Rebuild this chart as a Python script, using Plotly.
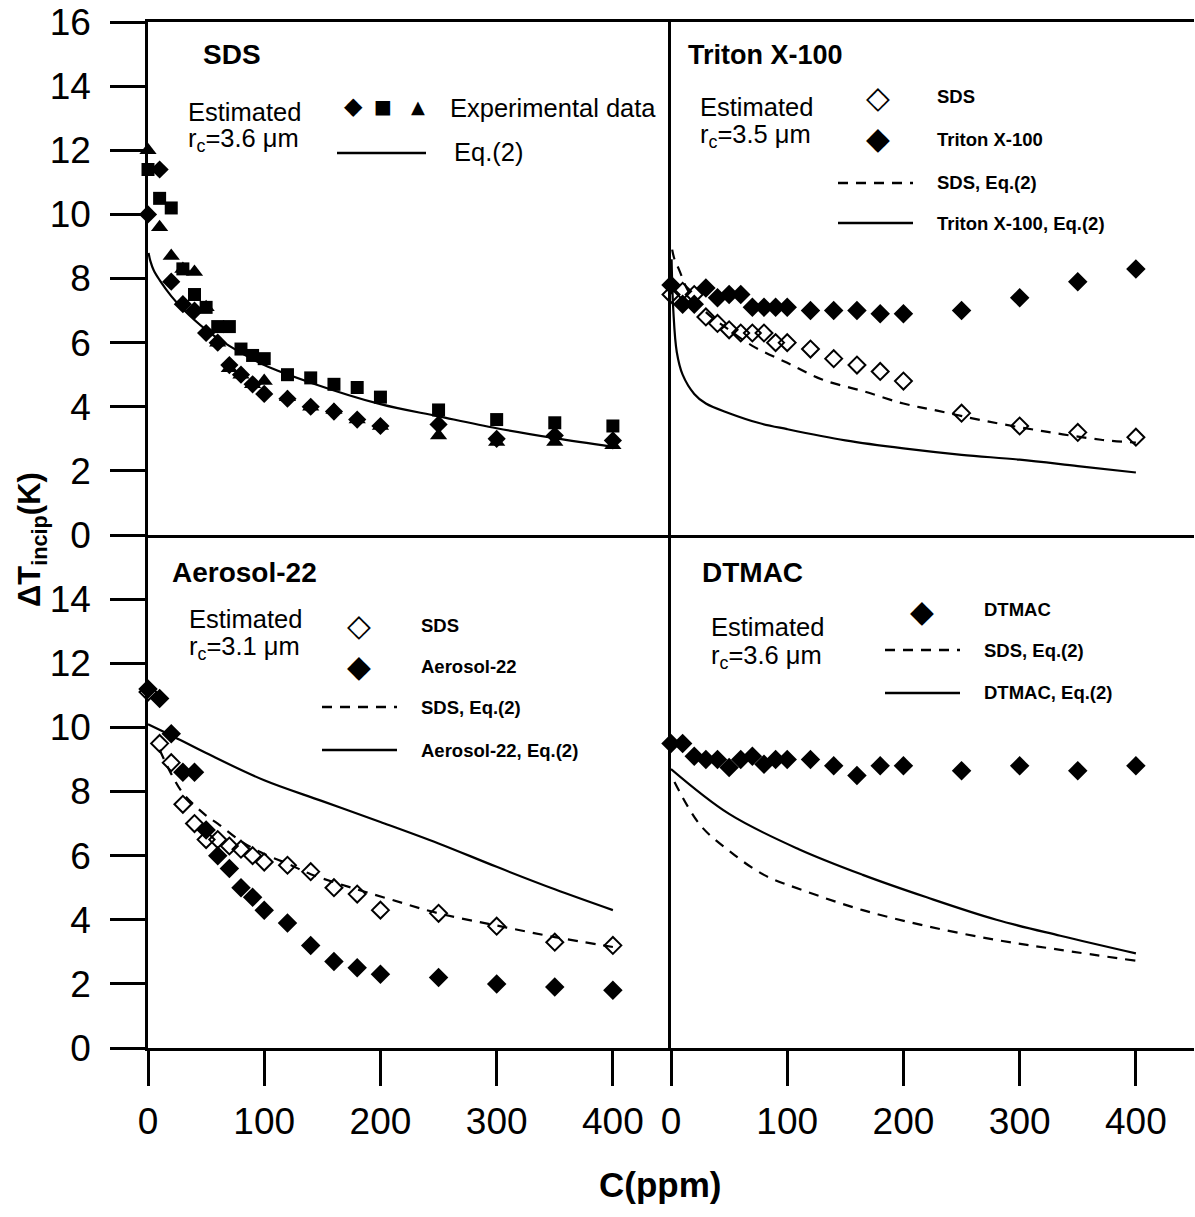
import plotly.graph_objects as go
from plotly.subplots import make_subplots

# concentrations of the measured points (ppm)
C_exp = [0, 10, 20, 30, 40, 50, 60, 70, 80, 90, 100, 120, 140, 160, 180, 200, 250, 300, 350, 400]

# --- SDS panel
sds_run1 = [10.0, 11.4, 7.9, 7.2, 7.0, 6.3, 6.0, 5.3, 5.0, 4.7, 4.4, 4.25, 4.0, 3.85, 3.6, 3.4, 3.45, 3.0, 3.1, 2.95]
sds_run2 = [11.4, 10.5, 10.2, 8.3, 7.5, 7.1, 6.5, 6.5, 5.8, 5.6, 5.5, 5.0, 4.9, 4.7, 4.6, 4.3, 3.9, 3.6, 3.5, 3.4]
sds_run3 = [12.0, 9.6, 8.7, 8.3, 8.2, 7.1, 6.0, 5.2, 5.0, 4.7, 4.8, 4.3, 4.0, 3.9, 3.6, 3.4, 3.1, 2.9, 2.9, 2.8]
sds_eq_c = [0.5, 2, 5, 10, 20, 30, 50, 70, 100, 140, 200, 250, 300, 350, 400]
sds_eq_t = [8.8, 8.55, 8.25, 7.95, 7.45, 7.05, 6.4, 5.9, 5.3, 4.75, 4.08, 3.7, 3.33, 3.02, 2.75]

# --- Triton X-100 panel
tri_sds = [7.5, 7.6, 7.5, 6.8, 6.6, 6.4, 6.3, 6.3, 6.3, 6.0, 6.0, 5.8, 5.5, 5.3, 5.1, 4.8, 3.8, 3.4, 3.2, 3.05]
tri_tx = [7.8, 7.2, 7.2, 7.7, 7.4, 7.5, 7.5, 7.1, 7.1, 7.1, 7.1, 7.0, 7.0, 7.0, 6.9, 6.9, 7.0, 7.4, 7.9, 8.3]
tri_sds_eq_c = [1, 3, 7, 15, 30, 50, 70, 100, 130, 165, 200, 230, 270, 320, 370, 400]
tri_sds_eq_t = [8.9, 8.6, 8.27, 7.6, 6.95, 6.4, 5.9, 5.37, 4.85, 4.49, 4.1, 3.87, 3.56, 3.24, 2.97, 2.88]
tri_tx_eq_c = [0.5, 2, 5, 10, 20, 30, 50, 75, 100, 150, 200, 250, 300, 350, 400]
tri_tx_eq_t = [8.6, 7.0, 5.7, 5.0, 4.4, 4.1, 3.8, 3.5, 3.3, 2.95, 2.7, 2.5, 2.35, 2.15, 1.95]

# --- Aerosol-22 panel
aer_sds = [11.1, 9.5, 8.9, 7.6, 7.0, 6.5, 6.5, 6.3, 6.2, 6.0, 5.8, 5.7, 5.5, 5.0, 4.8, 4.3, 4.2, 3.8, 3.3, 3.2]
aer_a22 = [11.2, 10.9, 9.8, 8.6, 8.6, 6.8, 6.0, 5.6, 5.0, 4.7, 4.3, 3.9, 3.2, 2.7, 2.5, 2.3, 2.2, 2.0, 1.9, 1.8]
aer_sds_eq_c = [10, 20, 30, 50, 60, 80, 100, 120, 140, 175, 210, 250, 300, 350, 400]
aer_sds_eq_t = [9.3, 8.55, 7.95, 7.25, 7.0, 6.45, 6.05, 5.75, 5.42, 5.0, 4.62, 4.2, 3.82, 3.46, 3.15]
aer_a22_eq_c = [0, 20, 50, 100, 150, 200, 250, 300, 350, 400]
aer_a22_eq_t = [10.1, 9.75, 9.2, 8.35, 7.7, 7.05, 6.38, 5.65, 4.95, 4.3]

# --- DTMAC panel
dt_dtmac = [9.5, 9.5, 9.1, 9.0, 9.0, 8.75, 9.0, 9.1, 8.85, 9.0, 9.0, 9.0, 8.8, 8.5, 8.8, 8.8, 8.65, 8.8, 8.65, 8.8]
dt_sds_eq_c = [3, 25, 50, 80, 115, 165, 220, 280, 335, 400]
dt_sds_eq_t = [8.3, 6.96, 6.15, 5.4, 4.9, 4.3, 3.8, 3.37, 3.06, 2.72]
dt_dt_eq_c = [0, 50, 110, 165, 220, 280, 335, 400]
dt_dt_eq_t = [8.7, 7.3, 6.2, 5.4, 4.7, 4.0, 3.5, 2.95]

FONT = "Arial, Liberation Sans, Helvetica, sans-serif"

fig = make_subplots(rows=2, cols=2, horizontal_spacing=0, vertical_spacing=0)


def pts(c, t, sym, size, row, col):
    open_ = sym.endswith("open")
    fig.add_trace(go.Scatter(x=c, y=t, mode="markers", cliponaxis=False,
                             marker=dict(symbol=sym, size=size, color="black",
                                         line=dict(color="black", width=2 if open_ else 0))),
                  row=row, col=col)


def curve(c, t, dash, row, col):
    fig.add_trace(go.Scatter(x=c, y=t, mode="lines", line_shape="spline",
                             line=dict(color="black", width=2.2, dash=dash)),
                  row=row, col=col)


DASH = "10px,8px"

curve(sds_eq_c, sds_eq_t, "solid", 1, 1)
pts(C_exp, sds_run1, "diamond", 14, 1, 1)
pts(C_exp, sds_run2, "square", 13, 1, 1)
pts(C_exp, sds_run3, "triangle-up", 15, 1, 1)

curve(tri_sds_eq_c, tri_sds_eq_t, DASH, 1, 2)
curve(tri_tx_eq_c, tri_tx_eq_t, "solid", 1, 2)
pts(C_exp, tri_sds, "diamond-open", 13, 1, 2)
pts(C_exp, tri_tx, "diamond", 15, 1, 2)

curve(aer_sds_eq_c, aer_sds_eq_t, DASH, 2, 1)
curve(aer_a22_eq_c, aer_a22_eq_t, "solid", 2, 1)
pts(C_exp, aer_sds, "diamond-open", 13, 2, 1)
pts(C_exp, aer_a22, "diamond", 15, 2, 1)

curve(dt_sds_eq_c, dt_sds_eq_t, DASH, 2, 2)
curve(dt_dt_eq_c, dt_dt_eq_t, "solid", 2, 2)
pts(C_exp, dt_dtmac, "diamond", 15, 2, 2)

# axes
fig.update_xaxes(range=[0, 450], showgrid=False, zeroline=False, showline=True,
                 linecolor="black", linewidth=2.5, automargin=False)
fig.update_yaxes(range=[0, 16], showgrid=False, zeroline=False, showline=True,
                 linecolor="black", linewidth=2.5, automargin=False)
fig.update_xaxes(row=1, showticklabels=False, ticks="", mirror=True)
fig.update_xaxes(row=2, ticks="outside", ticklen=35, tickwidth=2.5, tickcolor="black",
                 tickvals=[0, 100, 200, 300, 400], ticklabelstandoff=4,
                 tickfont=dict(family=FONT, size=37, color="black"))
fig.update_yaxes(col=1, ticks="outside", ticklen=35, tickwidth=2.5, tickcolor="black",
                 ticklabelstandoff=12,
                 tickfont=dict(family=FONT, size=37, color="black"))
fig.update_yaxes(row=1, col=1, tickvals=list(range(0, 17, 2)))
fig.update_yaxes(row=2, col=1, tickvals=list(range(0, 15, 2)))
fig.update_yaxes(col=2, showticklabels=False, ticks="")

L, T0, W, H = 148, 22, 1046, 1026


def px(x):
    return (x - L) / W


def py(y):
    return (T0 + H - y) / H


ann = []
shapes = []


def text(x, y, s, size, bold=False, family=FONT, anchor="left"):
    ann.append(dict(x=px(x), y=py(y), xref="paper", yref="paper", text=s, showarrow=False,
                    xanchor=anchor, yanchor="middle",
                    font=dict(family=family, size=size, color="black",
                              weight="bold" if bold else "normal")))


def seg(x0, x1, y, dash="solid"):
    shapes.append(dict(type="line", xref="paper", yref="paper", x0=px(x0), x1=px(x1),
                       y0=py(y), y1=py(y), line=dict(color="black", width=2.5, dash=dash)))


GLY = "DejaVu Sans"

# SDS panel
text(201, 54, "SDS", 28, True)
text(186, 112, "Estimated", 25.5)
text(186, 140, "r<sub>c</sub>=3.6 \u03bcm", 25.5)
text(353, 106, "\u25c6", 24, family=GLY, anchor="center")
text(383, 106, "\u25a0", 19, family=GLY, anchor="center")
text(418, 106, "\u25b2", 18, family=GLY, anchor="center")
text(448, 108, "Experimental data", 25.5)
seg(337, 426, 153)
text(452, 152, "Eq.(2)", 25.5)

# Triton X-100 panel
text(686, 55, "Triton X-100", 27, True)
text(698, 107, "Estimated", 25.5)
text(698, 136, "r<sub>c</sub>=3.5 \u03bcm", 25.5)
text(878, 97, "\u25c7", 31, family=GLY, anchor="center")
text(935, 97, "SDS", 18.5, True)
text(878, 138, "\u25c6", 31, family=GLY, anchor="center")
text(935, 139, "Triton X-100", 18.5, True)
seg(838, 913, 183, DASH)
text(935, 182, "SDS, Eq.(2)", 18.5, True)
seg(838, 913, 223)
text(935, 223, "Triton X-100, Eq.(2)", 18.5, True)

# Aerosol-22 panel
text(170, 573, "Aerosol-22", 28, True)
text(187, 619, "Estimated", 25.5)
text(187, 648, "r<sub>c</sub>=3.1 \u03bcm", 25.5)
text(359, 625, "\u25c7", 31, family=GLY, anchor="center")
text(419, 625, "SDS", 18.5, True)
text(359, 666, "\u25c6", 31, family=GLY, anchor="center")
text(419, 666, "Aerosol-22", 18.5, True)
seg(322, 397, 707, DASH)
text(419, 707, "SDS, Eq.(2)", 18.5, True)
seg(322, 397, 750)
text(419, 750, "Aerosol-22, Eq.(2)", 18.5, True)

# DTMAC panel
text(700, 573, "DTMAC", 28, True)
text(709, 627, "Estimated", 25.5)
text(709, 657, "r<sub>c</sub>=3.6 \u03bcm", 25.5)
text(922, 611, "\u25c6", 31, family=GLY, anchor="center")
text(982, 609, "DTMAC", 18.5, True)
seg(885, 960, 650, DASH)
text(982, 650, "SDS, Eq.(2)", 18.5, True)
seg(885, 960, 693)
text(982, 693, "DTMAC, Eq.(2)", 18.5, True)

# axis titles
text(660, 1184, "C(ppm)", 35, True, anchor="center")
ann.append(dict(x=px(32), y=py(540), xref="paper", yref="paper", showarrow=False,
                text="\u0394T<sub>incip</sub>(K)", textangle=-90, xanchor="center", yanchor="middle",
                font=dict(family=FONT, size=31, color="black", weight="bold")))

fig.update_layout(width=1195, height=1217, margin=dict(l=L, r=1, t=T0, b=1217 - T0 - H),
                  paper_bgcolor="white", plot_bgcolor="white", showlegend=False,
                  annotations=ann, shapes=shapes)

# page body has a default margin; drop it so the figure sits at the window origin
fig.write_html("out.html", config={"displayModeBar": False},
               post_script="document.body.style.margin='0';")
